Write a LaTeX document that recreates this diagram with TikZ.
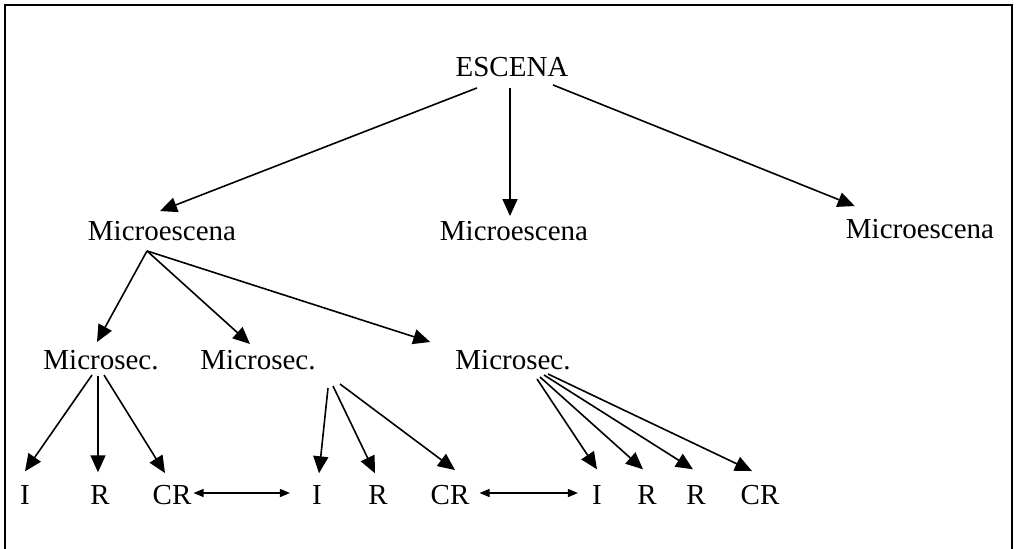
\documentclass[tikz,border=0pt]{standalone}
\usepackage{fontspec}
\setmainfont{Liberation Serif}
\usepackage{tikz}
\usetikzlibrary{arrows.meta}

\begin{document}
\begin{tikzpicture}[x=1pt,y=-1pt]

          \tikzstyle{labelNode} = [inner sep=0pt, font=\fontsize{29}{32}\selectfont];
          \tikzstyle{treeEdge} = [line width=1.6pt, -{Triangle[length=17pt,width=15pt]}];
          \tikzstyle{linkEdge} = [line width=1.4pt, {Triangle[length=10pt,width=8pt]}-{Triangle[length=10pt,width=8pt]}];
          \tikzstyle{frameEdge} = [line width=1.8pt];

          \useasboundingbox (0,0) rectangle (1021,549);
          \draw[frameEdge] (5,549) -- (5,5) -- (1012,5) -- (1012,549);

          \node[labelNode] (esc) at (512,67) {ESCENA};
          \node[labelNode] (mic1) at (162,231) {Microescena};
          \node[labelNode] (mic2) at (514,231) {Microescena};
          \node[labelNode] (mic3) at (920,229) {Microescena};

          \node[labelNode] (ms1) at (101,360) {Microsec.};
          \node[labelNode] (ms2) at (258,360) {Microsec.};
          \node[labelNode] (ms3) at (513,360) {Microsec.};

          \node[labelNode] (i1) at (25,495) {I};
          \node[labelNode] (r1) at (100,495) {R};
          \node[labelNode] (cr1) at (172,495) {CR};
          \node[labelNode] (i2) at (317,495) {I};
          \node[labelNode] (r2) at (378,495) {R};
          \node[labelNode] (cr2) at (450,495) {CR};
          \node[labelNode] (i3) at (597,495) {I};
          \node[labelNode] (r3) at (647,495) {R};
          \node[labelNode] (r4) at (696,495) {R};
          \node[labelNode] (cr3) at (760,495) {CR};

          \draw[treeEdge] ([shift={(-35,11)}]esc.south) -- ([shift={(-2,-10)}]mic1.north);
          \draw[treeEdge] ([shift={(-2,11)}]esc.south) -- ([shift={(-4,-5)}]mic2.north);
          \draw[treeEdge] ([shift={(41,8)}]esc.south) -- ([shift={(9,-13)}]mic3.north west);

          \draw[treeEdge] ([shift={(-15,10)}]mic1.south) -- ([shift={(-4,-8)}]ms1.north);
          \draw[treeEdge] ([shift={(-15,10)}]mic1.south) -- ([shift={(-8,-6)}]ms2.north);
          \draw[treeEdge] ([shift={(-15,10)}]mic1.south) -- ([shift={(-25,-8)}]ms3.north west);

          \draw[treeEdge] ([shift={(-9,5)}]ms1.south) -- ([shift={(0,-14)}]i1.north);
          \draw[treeEdge] ([shift={(-3,6)}]ms1.south) -- ([shift={(-2,-13)}]r1.north);
          \draw[treeEdge] ([shift={(3,5)}]ms1.south) -- ([shift={(-7,-12)}]cr1.north);

          \draw[treeEdge] ([shift={(70,18)}]ms2.south) -- ([shift={(2,-12)}]i2.north);
          \draw[treeEdge] ([shift={(75,16)}]ms2.south) -- ([shift={(-3,-12)}]r2.north);
          \draw[treeEdge] ([shift={(82,14)}]ms2.south) -- ([shift={(5,-15)}]cr2.north);

          \draw[treeEdge] ([shift={(24,9)}]ms3.south) -- ([shift={(0,-16)}]i3.north);
          \draw[treeEdge] ([shift={(27,7)}]ms3.south) -- ([shift={(-4,-16)}]r3.north);
          \draw[treeEdge] ([shift={(31,5)}]ms3.south) -- ([shift={(-3,-16)}]r4.north);
          \draw[treeEdge] ([shift={(35,4)}]ms3.south) -- ([shift={(-8,-14)}]cr3.north);

          \draw[linkEdge] ([shift={(2,-2)}]cr1.east) -- ([shift={(-22,-2)}]i2.west);
          \draw[linkEdge] ([shift={(10,-2)}]cr2.east) -- ([shift={(-14,-2)}]i3.west);
        \end{tikzpicture}
\end{document}
